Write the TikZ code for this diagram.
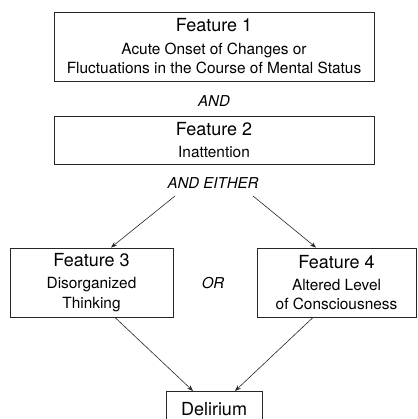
\documentclass[tikz,border=0pt]{standalone}
\usepackage{fontspec}
\setmainfont{TeX Gyre Heros}
\usetikzlibrary{arrows.meta}
\begin{document}
\begin{tikzpicture}[x=1pt,y=-1pt,
  box/.style={draw=black!85, line width=0.9pt, rectangle, inner sep=0pt, align=center,
    font=\fontsize{15.4}{19.5}\selectfont},
  ttl/.style={font=\fontsize{15}{19.5}\selectfont\itshape, inner sep=0pt},
  arr/.style={draw=black!85, line width=0.6pt, -{Stealth[length=6pt,width=4.5pt]}, shorten >=0pt}]
\clip (0,0) rectangle (417,419);
\node[box, minimum width=320pt, minimum height=69pt] (f1) at (214,46.5)
  {{\fontsize{18}{18}\selectfont Feature 1}\\[3pt]Acute Onset of Changes or\\Fluctuations in the Course of Mental Status};
\node[ttl] (and) at (214,101) {AND};
\node[box, minimum width=320pt, minimum height=48pt] (f2) at (214,140)
  {{\fontsize{18}{18}\selectfont Feature 2}\\[2.5pt]Inattention};
\node[ttl] (either) at (213,183) {AND EITHER};
\node[box, minimum width=163pt, minimum height=69pt] (f3) at (91.5,282.5)
  {{\fontsize{18}{18}\selectfont Feature 3}\\[2.5pt]Disorganized\\Thinking};
\node[box, minimum width=159pt, minimum height=69pt] (f4) at (336.5,282.5)
  {{\fontsize{18}{18}\selectfont Feature 4}\\[2.5pt]Altered Level\\of Consciousness};
\node[ttl] (or) at (213,283) {OR};
\node[box, minimum width=96pt, minimum height=50pt, anchor=north] (del) at (214,391) {};
\node[font=\fontsize{18}{18}\selectfont, inner sep=0pt, anchor=base] (deltext) at (214,415) {Delirium};
\coordinate (a1) at (175,196);
\coordinate (a2) at (253,196);
\draw[arr] (a1) -- (f3.north -| 111,0);
\draw[arr] (a2) -- (f4.north -| 316,0);
\draw[arr] (f3.south -| 115,0) -- (del.north -| 193,0);
\draw[arr] (f4.south -| 313,0) -- (del.north -| 235,0);
\end{tikzpicture}
\end{document}
